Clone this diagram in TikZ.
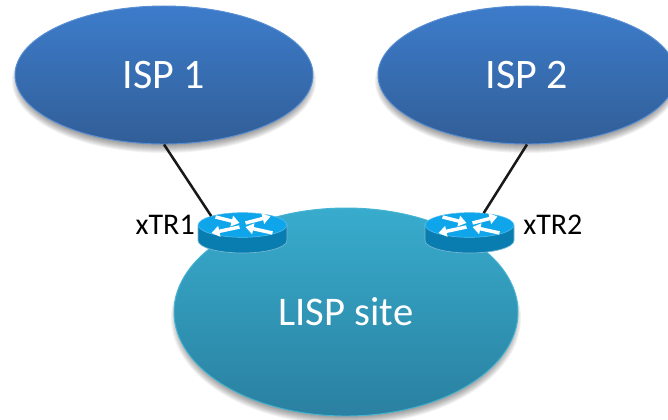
\documentclass[tikz,border=0pt]{standalone}
\usepackage{fontspec}
\setmainfont{Carlito}
\usetikzlibrary{shapes.geometric,arrows.meta}
\definecolor{ispTop}{HTML}{3D7CCB}
\definecolor{ispBot}{HTML}{315E97}
\definecolor{siteTop}{HTML}{38ACCD}
\definecolor{siteBot}{HTML}{2A80A0}
\definecolor{siteEdge}{HTML}{45B4D2}
\definecolor{rTop}{HTML}{0FA5EA}
\definecolor{rSide}{HTML}{0A7DB0}
\tikzset{
  x=0.75pt,y=-0.75pt,
  blob/.style={ellipse,inner sep=0pt,text=white,font=\fontsize{31.5}{31.5}\selectfont},
  ispblob/.style={blob,top color=ispTop,bottom color=ispBot,draw=ispTop!85!white,line width=0.7pt},
  siteblob/.style={blob,top color=siteTop,bottom color=siteBot,draw=siteEdge,line width=0.7pt,font=\fontsize{30.5}{30.5}\selectfont},
  routertop/.style={ellipse,inner sep=0pt,minimum width=66.5pt,minimum height=18.5pt,fill=rTop,draw=rTop!70!white,line width=0.4pt},
  routerlabel/.style={inner sep=0pt,text=black,font=\fontsize{22.5}{22.5}\selectfont},
  wire/.style={line width=1.9pt,black!90},
  rarrow/.style={draw=white,line width=2.6pt,-{Triangle[length=6pt,width=8pt]}}
}
\newcommand{\softshadow}[4]{%
  \foreach \k in {0,1,...,8}{
    \fill[black,opacity=0.05] (#1,#2+6) ellipse[x radius={#3+3-\k},y radius={#4+3-\k}];
  }}
\newcommand{\routerbody}[2]{%
  \fill[rSide,draw=rSide!55!white,line width=0.5pt] (#1-44.5,#2) -- (#1-44.5,#2+15.5)
     arc[start angle=180,end angle=0,x radius=44.5,y radius=12.5]
     -- (#1+44.5,#2) -- cycle;
}
\newcommand{\routerarrows}[2]{%
  \draw[rarrow] (#1-27,#2-8) -- (#1-3,#2-2);
  \draw[rarrow] (#1+3,#2-2) -- (#1+28,#2-8.5);
  \draw[rarrow] (#1-3,#2+2) -- (#1-31,#2+8);
  \draw[rarrow] (#1+30,#2+8) -- (#1+3,#2+2);
}
\begin{document}
\begin{tikzpicture}
\useasboundingbox (0,0) rectangle (668,420);
\clip (0,0) rectangle (668,420);
\softshadow{164}{75}{149}{69}
\softshadow{527}{75}{149}{69}
\node[ispblob,minimum width=223.5pt,minimum height=103.5pt] (isp1) at (164,75) {ISP 1};
\node[ispblob,minimum width=223.5pt,minimum height=103.5pt] (isp2) at (527,75) {ISP 2};
\softshadow{346}{312}{172}{104}
\node[siteblob,minimum width=258pt,minimum height=156pt] (site) at (346,312) {LISP site};
\routerbody{242.5}{225}
\routerbody{469.5}{225}
\node[routertop] (r1) at (242.5,225) {};
\node[routertop] (r2) at (469.5,225) {};
\routerarrows{242.5}{225}
\routerarrows{469.5}{225}
\draw[wire] (isp1.south) -- (r1.164);
\draw[wire] (isp2.south) -- (r2.40);
\node[routerlabel,anchor=east] (l1) at (195,225) {xTR1};
\node[routerlabel,anchor=west] (l2) at (523,225) {xTR2};
\end{tikzpicture}
\end{document}
